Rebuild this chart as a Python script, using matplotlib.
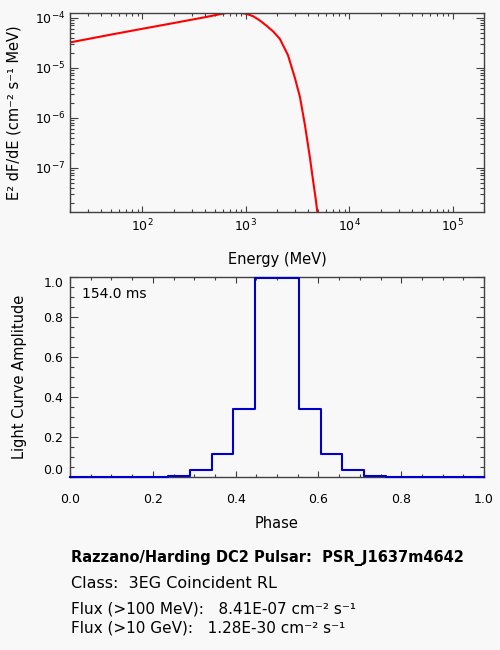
import numpy as np
import matplotlib
matplotlib.use('Agg')
import matplotlib.pyplot as plt
from matplotlib.ticker import MultipleLocator, LogLocator, NullFormatter

# spectrum (E in MeV, E^2 dF/dE)
energy_mev = [20, 50, 100, 200, 400, 665, 770, 875, 1016, 1177, 1366, 1586,
              1838, 2134, 2551, 2981, 3332, 3725, 4165, 4482, 4761, 4900, 5090]
e2dfde = [3.2e-5, 4.6e-5, 6.0e-5, 7.8e-5, 1.02e-4, 1.26e-4, 1.3e-4, 1.26e-4,
          1.19e-4, 1.07e-4, 8.8e-5, 6.9e-5, 5.3e-5, 3.75e-5, 1.79e-5, 6.2e-6,
          2.6e-6, 7.1e-7, 1.56e-7, 5.2e-8, 2.16e-8, 1.32e-8, 7.1e-9]

# light curve, 20 bins
phase = [i / 19 for i in range(20)]
amplitude = [0, 0, 0, 0, 0, 0.007, 0.037, 0.115, 0.341, 0.995,
             0.995, 0.341, 0.115, 0.037, 0.007, 0, 0, 0, 0, 0]

period_text = '154.0 ms'
title_line = 'Razzano/Harding DC2 Pulsar:  PSR_J1637m4642'
class_line = 'Class:  3EG Coincident RL'
flux_lines = ['Flux (>100 MeV):   8.41E-07 cm\u207b\u00b2 s\u207b\u00b9',
              'Flux (>10 GeV):   1.28E-30 cm\u207b\u00b2 s\u207b\u00b9']

bg = '#f8f8f8'
spine_col = '#404040'
plt.rcParams['font.family'] = ['DejaVu Sans']
plt.rcParams['mathtext.fontset'] = 'dejavusans'
plt.rcParams['mathtext.default'] = 'regular'

fig = plt.figure(figsize=(5, 6.5), dpi=100, facecolor=bg)


def style_axes(ax):
	ax.set_facecolor(bg)
	for sp in ax.spines.values():
		sp.set_color(spine_col)
		sp.set_linewidth(1.0)
	ax.tick_params(which='both', direction='in', top=True, right=True,
	               color=spine_col, width=0.8, labelsize=9)


#上圖: 能譜
ax1 = fig.add_axes([0.14, 0.6738, 0.828, 0.3067])
style_axes(ax1)
ax1.plot(energy_mev, e2dfde, color='#ff0000', lw=1.5)
ax1.set_xscale('log')
ax1.set_yscale('log')
ax1.set_xlim(20, 2e5)
ax1.set_ylim(1.3e-8, 1.26e-4)
ax1.xaxis.set_major_locator(LogLocator(base=10, numticks=10))
ax1.xaxis.set_minor_locator(LogLocator(base=10, subs=np.arange(2, 10), numticks=20))
ax1.xaxis.set_minor_formatter(NullFormatter())
ax1.yaxis.set_minor_locator(LogLocator(base=10, subs=np.arange(2, 10), numticks=20))
ax1.yaxis.set_minor_formatter(NullFormatter())
ax1.tick_params(axis='x', which='major', length=4, pad=4.3)
ax1.tick_params(axis='x', which='minor', length=2)
ax1.tick_params(axis='y', which='major', length=6, pad=3.6)
ax1.tick_params(axis='y', which='minor', length=3)
ax1.set_xlabel('Energy (MeV)', fontsize=10.5)
ax1.set_ylabel('E\u00b2 dF/dE (cm\u207b\u00b2 s\u207b\u00b9 MeV)', fontsize=10.5)
ax1.xaxis.set_label_coords(0.5, -0.2)
ax1.yaxis.set_label_coords(-0.116, 0.5)

#下圖: 光變曲線
ax2 = fig.add_axes([0.14, 0.2657, 0.828, 0.3077])
style_axes(ax2)
ax2.step(phase, amplitude, where='mid', color='#0000c8', lw=1.5,
         zorder=3, clip_on=False)
ax2.set_xlim(0, 1)
ax2.set_ylim(0, 1)
ax2.set_xticks([0.0, 0.2, 0.4, 0.6, 0.8, 1.0])
ax2.set_yticks([0.0, 0.2, 0.4, 0.6, 0.8, 1.0])
ax2.xaxis.set_major_formatter(plt.FormatStrFormatter('%.1f'))
ax2.yaxis.set_major_formatter(plt.FormatStrFormatter('%.1f'))
ax2.xaxis.set_minor_locator(MultipleLocator(0.05))
ax2.yaxis.set_minor_locator(MultipleLocator(0.05))
ax2.tick_params(axis='x', which='major', length=4, pad=11.5)
ax2.tick_params(axis='x', which='minor', length=2)
ax2.tick_params(axis='y', which='major', length=6, pad=4.8)
ax2.tick_params(axis='y', which='minor', length=3)
ylabs = ax2.get_yticklabels()
ylabs[0].set_verticalalignment('bottom')
ylabs[-1].set_verticalalignment('top')
ax2.set_xlabel('Phase', fontsize=10.5)
ax2.set_ylabel('Light Curve Amplitude', fontsize=10.5)
ax2.xaxis.set_label_coords(0.5, -0.194)
ax2.yaxis.set_label_coords(-0.103, 0.5)
ax2.text(0.028, 0.895, period_text, transform=ax2.transAxes, fontsize=10,
         va='baseline', ha='left')

#下方說明文字
fig.text(0.1414, 0.1349, title_line, fontsize=10.5, fontweight='bold', va='baseline')
fig.text(0.1414, 0.0958, class_line, fontsize=11.5, va='baseline')
fig.text(0.1414, 0.0565, flux_lines[0], fontsize=11, va='baseline')
fig.text(0.1414, 0.0272, flux_lines[1], fontsize=11, va='baseline')

plt.savefig('out.png', dpi=100, facecolor=bg)
plt.close()
